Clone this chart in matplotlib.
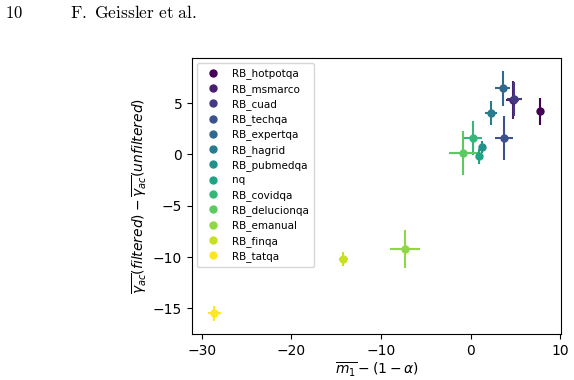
import matplotlib
matplotlib.use("Agg")
import matplotlib.pyplot as plt
from matplotlib.lines import Line2D
import numpy as np

datasets = ["RB_hotpotqa", "RB_msmarco", "RB_cuad", "RB_techqa", "RB_expertqa",
            "RB_hagrid", "RB_pubmedqa", "nq", "RB_covidqa", "RB_delucionqa",
            "RB_emanual", "RB_finqa", "RB_tatqa"]
x_vals = [7.8, 4.7, 4.9, 3.7, 3.6, 2.3, 1.25, 1.0, 0.3, -0.8, -7.3, -14.2, -28.6]
y_vals = [4.2, 5.35, 5.4, 1.6, 6.45, 4.05, 0.7, -0.2, 1.6, 0.1, -9.2, -10.2, -15.5]
x_err = [0.3, 0.75, 0.8, 1.0, 0.85, 0.7, 0.35, 0.4, 1.0, 1.6, 1.65, 0.5, 0.7]
y_err = [1.35, 1.85, 1.7, 2.1, 1.7, 1.15, 0.6, 0.7, 1.7, 2.15, 1.85, 0.7, 0.7]

plt.rcParams['mathtext.fontset'] = 'dejavusans'
fig = plt.figure(figsize=(5.74, 3.8), dpi=100)
ax = fig.add_axes([192/574, 46/380, 369/574, 276/380])

colors = plt.cm.viridis(np.linspace(0, 1, len(datasets)))
handles = []
for i, name in enumerate(datasets):
    ax.errorbar(x_vals[i], y_vals[i], xerr=x_err[i], yerr=y_err[i], fmt='o',
                color=colors[i], ms=5, elinewidth=1.5, capsize=0)
    handles.append(Line2D([], [], linestyle='none', marker='o', ms=5,
                          color=colors[i], label=name))

ax.set_xlim(-31.1, 10.1)
ax.set_ylim(-17.5, 9.4)
ax.set_xticks([-30, -20, -10, 0, 10])
ax.set_yticks([-15, -10, -5, 0, 5])
ax.tick_params(labelsize=10)
ax.set_xlabel(r'$\overline{m_1} - (1 - \alpha)$', fontsize=10, labelpad=2)
ax.set_ylabel(r'$\overline{\gamma_{ac}}(filtered) - \overline{\gamma_{ac}}(unfiltered)$',
              fontsize=10, labelpad=2)

ax.legend(handles=handles, loc='upper left', fontsize=7.5, handletextpad=0.8,
          borderpad=0.5, labelspacing=0.42, handlelength=2.0,
          bbox_to_anchor=(0.0, 1.0))

fig.text(5/574, 1 - 13/380, r'$\mathrm{10}$', fontsize=12, va='center',
         math_fontfamily='cm')
fig.text(70/574, 1 - 13/380, r'$\mathrm{F.\ Geissler\ et\ al.}$', fontsize=12.5,
         va='center', math_fontfamily='cm')

fig.savefig('out.png', dpi=100)
